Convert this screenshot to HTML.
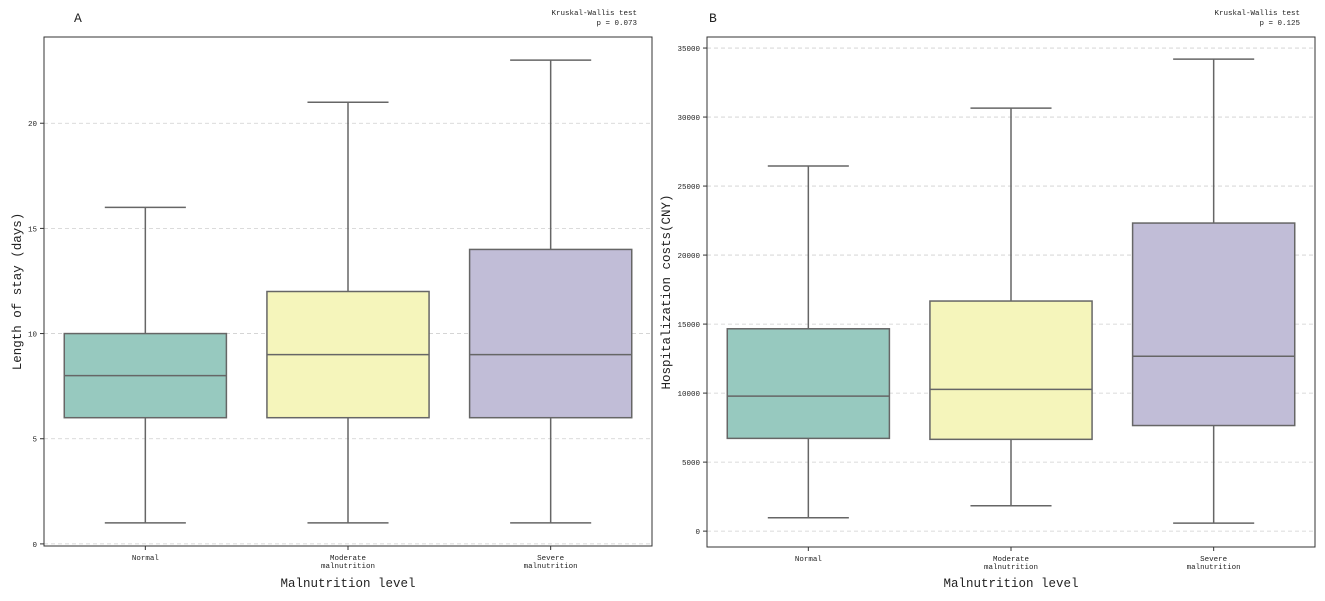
<!DOCTYPE html>
<html><head><meta charset="utf-8"><style>
body{margin:0;background:#fff;}
svg text{font-family:"Liberation Mono","Noto Sans CJK SC",monospace;fill:#222;}
</style></head><body>
<svg id="chart" width="1325" height="596" xmlns="http://www.w3.org/2000/svg"></svg>
<script>
const categories = ["Normal", "Moderate\nmalnutrition", "Severe\nmalnutrition"];
const losLow = [1, 1, 1];
const losQ1 = [6, 6, 6];
const losMed = [8, 9, 9];
const losQ3 = [10, 12, 14];
const losHigh = [16, 21, 23];
const losTicks = [0, 5, 10, 15, 20];
const costLow = [970, 1840, 580];
const costQ1 = [6720, 6650, 7650];
const costMed = [9780, 10270, 12670];
const costQ3 = [14660, 16670, 22320];
const costHigh = [26450, 30650, 34200];
const costTicks = [0, 5000, 10000, 15000, 20000, 25000, 30000, 35000];
const colors = ["#97c9bf", "#f5f5bb", "#c1bdd7"];

const svg = document.getElementById('chart');
const NS = "http://www.w3.org/2000/svg";
function mk(tag, attrs, parent){const e=document.createElementNS(NS,tag);for(const k in attrs)e.setAttribute(k,attrs[k]);(parent||svg).appendChild(e);return e;}

function panel(opt){
  const g = mk('g',{});
  
  
  const {x0,x1,y0,y1,ymin,ymax} = opt;
  const ys = v => y1 - (v - ymin)/(ymax - ymin)*(y1 - y0);
  const step = (x1 - x0)/categories.length;
  const xs = i => x0 + step*(i + 0.5);
  opt.ticks.forEach(t=>{
    const y = ys(t);
    const gl = mk('line',{x1:x0,x2:x1,y1:y,y2:y,stroke:'#cfcfcf','stroke-dasharray':'4,3','stroke-width':0.8},g);
    
    
    mk('line',{x1:x0-4,x2:x0,y1:y,y2:y,stroke:'#333','stroke-width':1},g);
    const tl = mk('text',{x:x0-7,y:y+3,'text-anchor':'end','font-size':7.5},g);
    tl.textContent = t;
    
    
  });
  categories.forEach((c,i)=>{
    const cx = xs(i), hw = step*0.4, cw = step*0.2;
    const bg = mk('g',{},g);
    
    
    mk('line',{x1:cx,x2:cx,y1:ys(opt.low[i]),y2:ys(opt.q1[i]),stroke:'#666','stroke-width':1.5},bg);
    mk('line',{x1:cx,x2:cx,y1:ys(opt.q3[i]),y2:ys(opt.high[i]),stroke:'#666','stroke-width':1.5},bg);
    mk('line',{x1:cx-cw,x2:cx+cw,y1:ys(opt.low[i]),y2:ys(opt.low[i]),stroke:'#666','stroke-width':1.5},bg);
    mk('line',{x1:cx-cw,x2:cx+cw,y1:ys(opt.high[i]),y2:ys(opt.high[i]),stroke:'#666','stroke-width':1.5},bg);
    mk('rect',{x:cx-hw,y:ys(opt.q3[i]),width:2*hw,height:ys(opt.q1[i])-ys(opt.q3[i]),fill:colors[i],stroke:'#666','stroke-width':1.5},bg);
    mk('line',{x1:cx-hw,x2:cx+hw,y1:ys(opt.med[i]),y2:ys(opt.med[i]),stroke:'#666','stroke-width':1.5},bg);
    mk('line',{x1:cx,x2:cx,y1:y1,y2:y1+4,stroke:'#333','stroke-width':1},g);
    const lines = c.split('\n');
    lines.forEach((ln,k)=>{
      const t = mk('text',{x:cx,y:y1+14+k*8,'text-anchor':'middle','font-size':7.5},g);
      t.textContent = ln;
      
      
    });
  });
  const fr = mk('rect',{x:x0,y:y0,width:x1-x0,height:y1-y0,fill:'none',stroke:'#333','stroke-width':1},g);
  
  
  const xt = mk('text',{x:(x0+x1)/2,y:587,'text-anchor':'middle','font-size':12.5},g);
  xt.textContent = 'Malnutrition level';
  
  
  const yt = mk('text',{x:0,y:0,'text-anchor':'middle','font-size':12.5,transform:`translate(${opt.ytx},${(y0+y1)/2}) rotate(-90)`},g);
  yt.textContent = opt.ytitle;
  
  
  const pl = mk('text',{x:opt.letterX,y:22,'font-size':13},g);
  pl.textContent = opt.letter;
  
  
  const k1 = mk('text',{x:x1-15,y:15,'text-anchor':'end','font-size':7.5},g);
  k1.textContent = 'Kruskal-Wallis test';
  
  
  const k2 = mk('text',{x:x1-15,y:25,'text-anchor':'end','font-size':7.5},g);
  k2.textContent = opt.p;
  
  
}
panel({name:'panel-a-length-of-stay',x0:44,x1:652,y0:37,y1:546,ymin:-0.1,ymax:24.1,ticks:losTicks,
  low:losLow,q1:losQ1,med:losMed,q3:losQ3,high:losHigh,ytitle:'Length of stay (days)',ytx:21,letter:'A',letterX:74,p:'p = 0.073'});
panel({name:'panel-b-hospitalization-costs',x0:707,x1:1315,y0:37,y1:547,ymin:-1150,ymax:35800,ticks:costTicks,
  low:costLow,q1:costQ1,med:costMed,q3:costQ3,high:costHigh,ytitle:'Hospitalization costs(CNY)',ytx:670,letter:'B',letterX:709,p:'p = 0.125'});
</script>
</body></html>
